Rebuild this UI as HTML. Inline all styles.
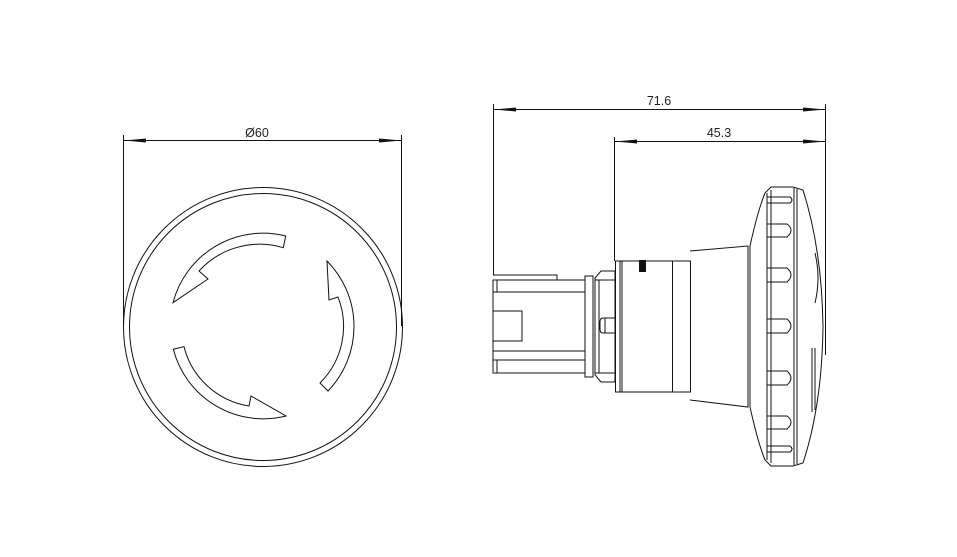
<!DOCTYPE html>
<html><head><style>
html,body{margin:0;padding:0;background:#fff;width:957px;height:557px;overflow:hidden}
svg{display:block}
text{font-family:"Liberation Sans",sans-serif;font-size:12.5px;fill:#222}
</style></head><body>
<svg width="957" height="557" viewBox="0 0 957 557" xmlns="http://www.w3.org/2000/svg">
<g stroke="#111" stroke-width="1" fill="none">
<!-- front view dims -->
<line x1="123.5" y1="135" x2="123.5" y2="326"/>
<line x1="401.5" y1="135" x2="401.5" y2="326"/>
<line x1="123.5" y1="140.5" x2="401.5" y2="140.5"/>
<!-- circles -->
<circle cx="263" cy="327" r="139.5"/>
<circle cx="263" cy="327" r="133.5"/>
<path d="M285.7,236 L283.3,247.7 A82,82 0 0 0 199,271 L208,279 L173,302.7 A93,93 0 0 1 285.7,236 Z"/>
<path d="M327,261 A93,93 0 0 1 328,391 L320,383 A80,80 0 0 0 338,297 L329,300 Z"/>
<path d="M173.3,349.3 A93,93 0 0 0 286,416 L251,396 L249,406 A80,80 0 0 1 184,346.7 Z"/>
<!-- side dims -->
<line x1="493.5" y1="104" x2="493.5" y2="275"/>
<line x1="614.5" y1="137" x2="614.5" y2="261"/>
<line x1="825.5" y1="104" x2="825.5" y2="355"/>
<line x1="493.5" y1="109.5" x2="825.5" y2="109.5"/>
<line x1="614.5" y1="141.5" x2="825.5" y2="141.5"/>
<!-- shaft -->
<path d="M493,275 H557 V280"/>
<rect x="493" y="280" width="92" height="93"/>
<line x1="493" y1="292" x2="585" y2="292"/>
<line x1="493" y1="351" x2="585" y2="351"/>
<line x1="493" y1="360" x2="585" y2="360"/>
<path d="M493,311 H522 V341 H493"/>
<line x1="497" y1="280" x2="497" y2="292"/>
<line x1="497" y1="360" x2="497" y2="373"/>
<rect x="585" y="276" width="8" height="101"/>
<path d="M595,278 L601,271 H615 V382 H601 L595,375 Z"/>
<line x1="599" y1="280" x2="599" y2="373"/>
<line x1="595" y1="280" x2="615" y2="280"/>
<line x1="595" y1="373" x2="615" y2="373"/>
<path d="M615,318 H603 Q600,318 600,322 V329 Q600,333 603,333 H615"/>
<line x1="605" y1="318" x2="605" y2="333"/>
<!-- body -->
<rect x="615.5" y="261" width="75" height="131"/>
<line x1="620" y1="261" x2="620" y2="392"/>
<line x1="622" y1="261" x2="622" y2="392"/>
<line x1="672.5" y1="261" x2="672.5" y2="392"/>
<!-- cone -->
<path d="M690,251 L748,246 V407 L690,400"/>
<!-- cap -->
<path d="M750,246 Q758,210 765,193 L771,187 L793,187 L803,190 Q822,250 823,327 Q822,405 803,463 L793,466 L771,466 L765,460 Q758,443 750,407 Z"/>
<line x1="767" y1="193" x2="767" y2="460"/>
<line x1="771" y1="190" x2="771" y2="463"/>
<line x1="794" y1="188" x2="794" y2="465"/>
<line x1="797" y1="189" x2="797" y2="464"/>
<path d="M815,253 Q821,278 815,303"/>
<path d="M815,348 V410"/>
<path d="M812,348 V412"/>
<path d="M767,197 H790 Q794,200 790,203 H767"/>
<path d="M767,224 H787 Q795,230 787,237 H767"/>
<path d="M767,268 H787 Q795,275 787,282 H767"/>
<path d="M767,319 H787 Q795,326 787,333 H767"/>
<path d="M767,371 H787 Q795,378 787,385 H767"/>
<path d="M767,416 H787 Q795,422 787,429 H767"/>
<path d="M767,446 H790 Q794,449 790,452 H767"/>
</g>
<rect x="639" y="260" width="7" height="12" fill="#111"/>
<g fill="#111">
<path d="M124,140.5 L146,138.5 L146,142.5 Z"/>
<path d="M401,140.5 L379,138.5 L379,142.5 Z"/>
<path d="M494,109.5 L516,107.5 L516,111.5 Z"/>
<path d="M825,109.5 L803,107.5 L803,111.5 Z"/>
<path d="M615,141.5 L637,139.5 L637,143.5 Z"/>
<path d="M825,141.5 L803,139.5 L803,143.5 Z"/>
</g>
<text x="257" y="137" text-anchor="middle">Ø60</text>
<text x="659" y="105" text-anchor="middle">71.6</text>
<text x="719" y="137" text-anchor="middle">45.3</text>
</svg>
</body></html>
